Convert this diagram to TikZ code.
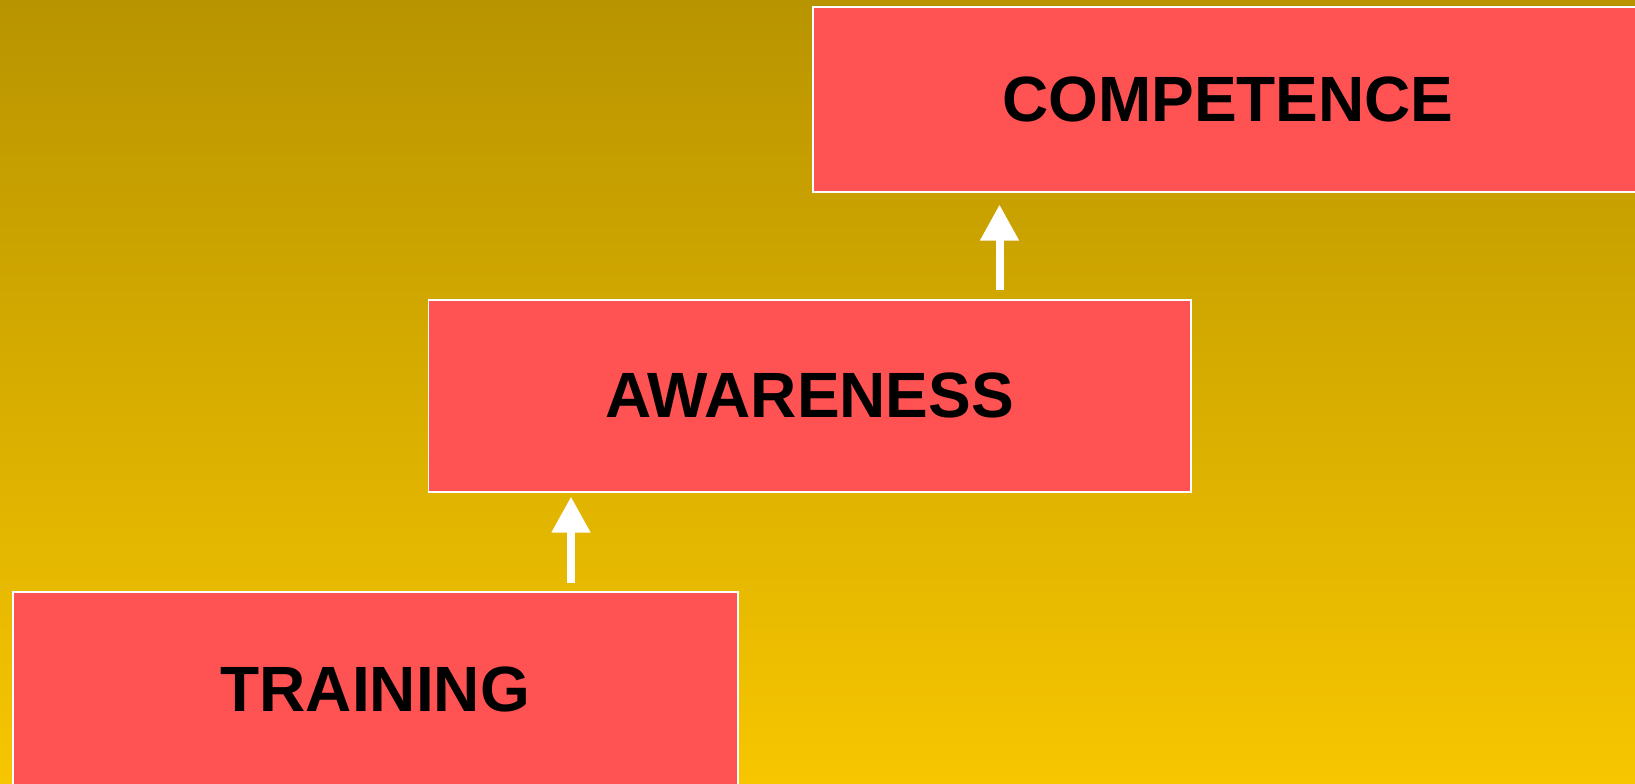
\documentclass[tikz,border=0pt]{standalone}
\usepackage{fontspec}
\setmainfont{Liberation Sans}
\usetikzlibrary{arrows.meta}
\definecolor{boxred}{HTML}{FF5252}
\definecolor{bgtop}{HTML}{B89400}
\definecolor{bgbot}{HTML}{F7C600}
\tikzset{
  box/.style={draw=white, line width=1.6pt, fill=boxred, anchor=north west,
    inner sep=0pt, font=\fontsize{64}{70}\selectfont\bfseries, text=black},
  uparrow/.style={draw=white, line width=8pt,
    -{Triangle[width=37pt,length=36pt]}, white}
}
\begin{document}
\begin{tikzpicture}[x=1pt,y=-1pt]
\clip (0,0) rectangle (1635,784);
\useasboundingbox (0,0) rectangle (1635,784);
\shade[top color=bgtop, bottom color=bgbot] (0,0) rectangle (1635,784);
\node[box, minimum width=830pt, minimum height=185pt] (co) at (812,6) {COMPETENCE};
\node[box, minimum width=762.5pt, minimum height=192pt] (aw) at (427.5,299) {AWARENESS};
\node[box, minimum width=725pt, minimum height=196pt] (tr) at (12,591) {TRAINING};
\coordinate (ax1) at (571,0);
\coordinate (ax2) at (999.5,0);
\draw[uparrow, shorten <=8pt, shorten >=4pt] (tr.north -| ax1) -- (aw.south -| ax1);
\draw[uparrow, shorten <=9pt, shorten >=12pt] (aw.north -| ax2) -- (co.south -| ax2);
\end{tikzpicture}
\end{document}
